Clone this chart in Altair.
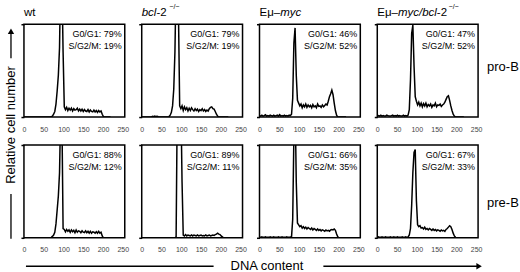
import altair as alt
import pandas as pd

# DNA-content channel bins (every 3rd channel of the 256-channel histogram)
channels = list(range(0, 222, 3))

pro_b_wt = [0, 0, 0, 0, 0, 0, 0, 0, 0, 0, 0, 0,
            0, 0, 0, 0, 0, 0, 0, 0, 0, 0, 0,
            0.5, 1, 3, 6, 14, 28, 45, 75, 160, 150, 70,
            11, 8, 10.5, 7, 9.5, 7.5, 9.5, 6.5, 9, 7.5, 8, 9.5, 6.5, 8.5, 6.5, 8.5,
            6, 8, 6.5, 6, 8, 5.5, 7.5, 6, 5.5, 7.5, 5.5, 7, 5, 7, 5.5, 6.5,
            3, 0.5, 0, 0, 0, 0, 0, 0]
pro_b_bcl2 = [0, 0, 0, 0, 0, 0, 0, 0, 0,
              0.8, 0.3, 1, 0.5, 0.8, 0.3,
              0, 0, 0, 0, 0, 0, 0, 0,
              0.5, 2, 5, 12, 30, 70, 150, 160, 110, 12,
              9, 12, 7, 11, 8, 10, 6.5, 9.5, 7, 10, 8, 6.5,
              9, 7, 8.5, 6, 8, 7, 9, 6.5, 8, 6, 7.5, 6.5,
              9, 10.5, 11, 9, 8.5, 6, 3, 1, 0,
              0, 0, 0, 0, 0, 0, 0, 0]
pro_b_myc = [1.5, 1, 2, 1, 1.5, 2.5, 1, 1.5, 1, 2, 1.5, 1,
             2, 1, 1.5, 2, 1, 2.5, 1, 1.5, 1, 2, 1, 1.5, 1, 2, 1.5,
             3, 20, 80, 96, 45, 18,
             15, 12, 14, 10, 13, 11, 14, 10.5, 13, 11, 12.5, 10,
             13.5, 11, 12, 10, 14, 11.5, 12, 10.5, 13, 11, 12.5, 14,
             13, 17, 22, 25, 29, 24, 15, 7, 2,
             0, 0, 0, 0, 0, 0, 0, 0]
pro_b_myc_bcl2 = [1, 1.5, 1, 2, 1, 1.5, 1, 1, 2, 1.5, 1, 1,
                  1.5, 2, 1, 1.5, 1, 2, 1, 1.5, 1, 1, 2, 1, 1.5, 1,
                  2, 8, 40, 90, 99, 55, 22,
                  17, 13, 16, 12, 15, 11, 14.5, 12, 15, 11, 13.5, 12,
                  14, 10.5, 13, 12, 15, 11, 13, 12.5, 14, 11.5, 13,
                  14, 16, 19, 22, 23, 18, 12, 7, 3, 1,
                  0, 0, 0, 0, 0, 0, 0, 0]
pre_b_wt = [0, 0, 0, 0, 0, 0, 0, 0, 0, 0, 0, 0,
            0, 0, 0, 0, 0, 0, 0, 0, 0, 0, 0,
            0.5, 1.5, 3, 6, 15, 30, 45, 70, 140, 130, 10,
            9, 6.5, 9, 7, 8.5, 6, 8.5, 6.5, 8, 5.5, 8.5, 6,
            7.5, 7, 5.5, 7.5, 6, 5.5, 7.5, 5.5, 7, 5, 7, 5,
            6.5, 6, 5, 6.5, 5, 7, 5, 6,
            2, 0, 0, 0, 0, 0, 0, 0]
pre_b_bcl2 = [0, 0, 0, 0, 0, 0, 0, 0, 0, 0, 0, 0, 0, 0, 0,
              0, 0, 0, 0, 0, 0, 0, 0, 0, 0, 0, 0, 0, 0,
              1, 150, 160, 160, 150, 60,
              3, 2, 3.5, 2, 3, 2.5, 2, 3, 2, 3, 2.5, 2,
              3, 2, 2.5, 3, 2, 2.5, 2, 3, 2, 2.5, 3, 2,
              2.5, 3, 2.5, 3.5, 4, 5, 4, 3.5, 2,
              1, 0, 0, 0, 0, 0]
pre_b_myc = [0.5, 0.5, 1, 0.5, 0.5, 1, 0.5, 0.5, 0.5, 1, 0.5, 0.5,
             1, 0.5, 0.5, 0.5, 1, 0.5, 0.5, 1, 0.5, 0.5, 0.5, 1, 0.5, 0.5, 1,
             1, 20, 110, 150, 60, 16,
             14, 12, 13, 10.5, 12, 10, 11.5, 9.5, 11, 10, 9, 10.5,
             8.5, 10, 9, 8, 9.5, 8, 9, 7.5, 8.5, 8, 7, 8.5, 7.5, 8, 7, 8.5,
             9, 8.5, 9.5, 8, 4, 1,
             0, 0, 0, 0, 0, 0, 0]
pre_b_myc_bcl2 = [0.5, 1, 0.5, 0.5, 1, 0.5, 0.5, 1, 0.5, 0.5, 0.5, 1,
                  0.5, 0.5, 1, 0.5, 0.5, 1, 0.5, 0.5, 0.5, 1, 0.5, 0.5, 1, 0.5,
                  1, 3, 10, 35, 70, 92, 95, 40, 14,
                  12, 13, 10.5, 11, 9.5, 11.5, 9, 10, 8.5, 10, 9, 8,
                  9.5, 8, 9, 7.5, 8.5, 8, 7, 8.5, 7.5, 8, 7,
                  9, 10, 11.5, 13, 12, 9, 5, 2, 0.5, 0,
                  0, 0, 0, 0, 0, 0]

g0g1_pro = ["79%", "79%", "46%", "47%"]
sg2m_pro = ["19%", "19%", "52%", "52%"]
g0g1_pre = ["88%", "89%", "66%", "67%"]
sg2m_pre = ["12%", "11%", "35%", "33%"]
row_labels = ["pro-B", "pre-B"]
y_title = "Relative cell number"
x_title = "DNA content"
x_ticks = [0, 50, 100, 150, 200, 250]

rows = [[pro_b_wt, pro_b_bcl2, pro_b_myc, pro_b_myc_bcl2],
        [pre_b_wt, pre_b_bcl2, pre_b_myc, pre_b_myc_bcl2]]
for r in rows:
    for s in r:
        assert len(s) == len(channels)

FONT = "Liberation Sans"
W, H = 101, 93
TS = 11.5  # column title font size
one = pd.DataFrame({"k": [0]})


def text(t, x, y, size, align="left", baseline="alphabetic", style="normal", angle=0, color="black"):
    return alt.Chart(one).mark_text(
        text=t, align=align, baseline=baseline, font=FONT, fontSize=size,
        fontStyle=style, angle=angle, color=color
    ).encode(x=alt.value(x), y=alt.value(y))


def hline(x1, x2, y, w=1.3):
    return alt.Chart(one).mark_rule(color="black", strokeWidth=w).encode(
        x=alt.value(x1), x2=alt.value(x2), y=alt.value(y))


def vline(x, y1, y2, w=1.3):
    return alt.Chart(one).mark_rule(color="black", strokeWidth=w).encode(
        x=alt.value(x), y=alt.value(y1), y2=alt.value(y2))


def head(x, y, shape):
    return alt.Chart(one).mark_point(shape=shape, filled=True, size=40, color="black", opacity=1).encode(
        x=alt.value(x), y=alt.value(y))


def anchor():
    return alt.Chart(one).mark_rule(opacity=0).encode(
        x=alt.value(-23), x2=alt.value(-20), y=alt.value(-23))


def title_layers(c):
    T = -8
    S = -15.5
    k = TS / 11.0
    if c == 0:
        return [text("wt", 0, T, TS)]
    if c == 1:
        return [text("bcl", 0, T, TS, style="italic"), text("-2", 14.1 * k, T, TS),
                text("−/−", 25.0 * k + 1.5, S, 7)]
    if c == 2:
        return [text("Eμ–", 0, T, TS), text("myc", 19.8 * k, T, TS, style="italic")]
    return [text("Eμ–", 0, T, TS), text("myc/bcl", 19.8 * k, T, TS, style="italic"),
            text("-2", 57.1 * k, T, TS), text("−/−", 66.9 * k + 1.5, S, 7)]


def panel(r, c):
    df = pd.DataFrame({"ch": channels, "n": rows[r][c]})
    x = alt.X("ch:Q", scale=alt.Scale(domain=[0, 255], nice=False, zero=False),
              axis=alt.Axis(values=x_ticks, title=None, ticks=False, domain=False, grid=False,
                            labelPadding=8, labelFontSize=7, labelColor="#444", labelFont=FONT,
                            labelFlush=False, labelOverlap=False))
    y = alt.Y("n:Q", scale=alt.Scale(domain=[0, 100], nice=False),
              axis=alt.Axis(values=[0, 100], labels=False, title=None, domain=False, grid=False,
                            tickSize=3, tickWidth=1.5, tickColor="black"))
    line = alt.Chart(df).mark_line(color="black", strokeWidth=1.5, clip=True).encode(x=x, y=y)
    g = g0g1_pro if r == 0 else g0g1_pre
    s = sg2m_pro if r == 0 else sg2m_pre
    layers = [line,
              text("G0/G1:  " + g[c], W - 3, 13, 9, align="right"),
              text("S/G2/M:  " + s[c], W - 3, 25, 9, align="right")]
    if r == 0:
        layers += title_layers(c)
    if c == 3:
        layers.append(text(row_labels[r], 110, 42.7 if r == 0 else 57.7, 13, baseline="middle"))
    if r == 0 and c == 0:
        layers += [anchor(),
                   text(y_title, -13, 101, 13, align="center", baseline="middle", angle=270),
                   vline(-13, 8, 34), head(-13, 7, "triangle-up"),
                   vline(-13, 170, 215)]
    if r == 1 and c == 0:
        layers += [hline(2, 190, 121.5),
                   text(x_title, 207, 121, 13, baseline="middle"),
                   hline(300, 455, 121.5), head(456, 121.5, "triangle-right")]
    return alt.layer(*layers).properties(width=W, height=H)


panels = [panel(r, c) for r in range(2) for c in range(4)]

chart = alt.concat(
    *panels, columns=4, spacing=alt.RowColnumber(row=28, column=17), bounds="flush"
).properties(
    padding=0
).configure_view(stroke="black", strokeWidth=1.5)

chart.save("out.html", embed_options={"renderer": "svg", "actions": False})
